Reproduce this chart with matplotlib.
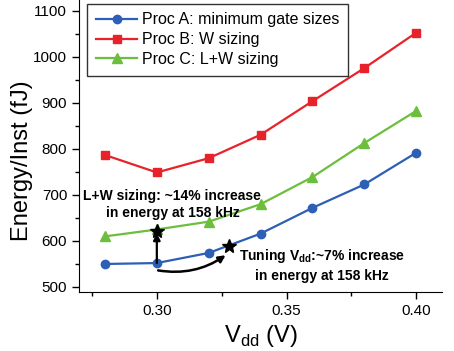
import matplotlib

matplotlib.use("Agg")
import matplotlib.pyplot as plt
from matplotlib.ticker import MultipleLocator

plt.rcParams["font.family"] = ["Liberation Sans", "DejaVu Sans"]
plt.rcParams["mathtext.fontset"] = "custom"
plt.rcParams["mathtext.rm"] = "Liberation Sans"
plt.rcParams["mathtext.bf"] = "Liberation Sans:bold"

VDD = [0.28, 0.30, 0.32, 0.34, 0.36, 0.38, 0.40]
PROC_A = [549, 551, 573, 615, 671, 722, 791]
PROC_B = [786, 748, 779, 830, 903, 975, 1052]
PROC_C = [609, 624, 641, 679, 738, 812, 882]

STAR_X = [0.300, 0.328]
STAR_Y = [621, 589]

fig = plt.figure(figsize=(4.54, 3.51), dpi=100)
ax = fig.add_axes([0.174, 0.168, 0.80, 0.832])

ax.plot(VDD, PROC_A, color="#2c5fb5", marker="o", markersize=6, linewidth=1.6,
        label="Proc A: minimum gate sizes")
ax.plot(VDD, PROC_B, color="#e8222a", marker="s", markersize=6, linewidth=1.6,
        label="Proc B: W sizing")
ax.plot(VDD, PROC_C, color="#6cbf3c", marker="^", markersize=6.5, linewidth=1.6,
        label="Proc C: L+W sizing")

# --- annotations: stars + arrows ---
ax.annotate("", xy=(STAR_X[0], STAR_Y[0] - 5), xytext=(VDD[1], PROC_A[1]),
            arrowprops=dict(arrowstyle="-|>", color="black", lw=1.6,
                            mutation_scale=10, shrinkA=0, shrinkB=0))
ax.annotate("", xy=(0.3265, 568), xytext=(0.3005, 535),
            arrowprops=dict(arrowstyle="-|>", color="black", lw=1.8,
                            mutation_scale=10, shrinkA=0, shrinkB=0,
                            connectionstyle="arc3,rad=0.2"))
ax.plot(STAR_X, STAR_Y, linestyle="none", marker="*", markersize=10,
        color="black", zorder=5)

ax.text(0.306, 678, "L+W sizing: ~14% increase\nin energy at 158 kHz",
        ha="center", va="center", fontsize=10, fontweight="bold",
        linespacing=1.25)
ax.text(0.3636, 547, "Tuning V$_{\\mathbf{dd}}$:~7% increase\nin energy at 158 kHz",
        ha="center", va="center", fontsize=10, fontweight="bold",
        linespacing=1.3)

ax.set_xlim(0.27, 0.41)
ax.set_ylim(488, 1123)
ax.xaxis.set_major_locator(MultipleLocator(0.05))
ax.xaxis.set_minor_locator(MultipleLocator(0.025))
ax.yaxis.set_major_locator(MultipleLocator(100))
ax.yaxis.set_minor_locator(MultipleLocator(50))
ax.xaxis.set_major_formatter(plt.FormatStrFormatter("%.2f"))
ax.tick_params(which="major", length=5, width=1, labelsize=11)
ax.tick_params(which="minor", length=3, width=1)
ax.spines["top"].set_visible(False)
ax.spines["right"].set_visible(False)

ax.set_xlabel("V$_{\\mathrm{dd}}$ (V)", fontsize=17, labelpad=4)
ax.set_ylabel("Energy/Inst (fJ)", fontsize=17, labelpad=2)
ax.yaxis.set_label_coords(-0.127, 0.449)

leg = ax.legend(loc="upper left", bbox_to_anchor=(0.0, 1.015), fontsize=11.5,
                frameon=True, fancybox=False, edgecolor="black",
                handlelength=2.6, borderpad=0.55, labelspacing=0.3,
                handletextpad=0.3)
leg.get_frame().set_linewidth(1.0)

plt.savefig("out.png", dpi=100)
plt.close(fig)
